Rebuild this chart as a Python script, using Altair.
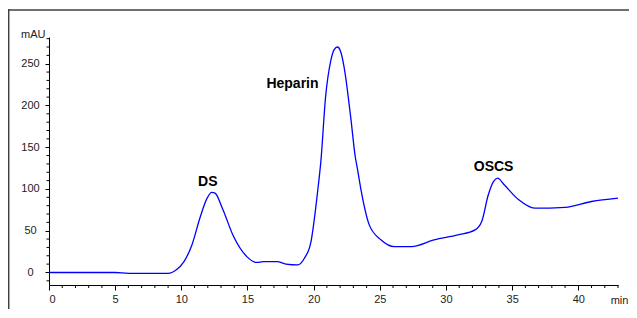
import altair as alt
import pandas as pd

# chromatogram trace (time in min, absorbance in mAU)
time_min = [0, 5, 6, 9.0, 9.6, 10.2, 10.8, 11.4, 11.95, 12.3, 12.55, 13.1, 13.95, 14.95,
            15.7, 16.2, 17.25, 17.9, 18.8, 19.3, 19.8, 20.3, 20.55, 20.9, 21.3, 21.55,
            21.8, 22.05, 22.3, 22.8, 23.15, 23.3, 23.6, 24.2, 25.1, 26.1, 27.4, 29.1,
            30.9, 32.2, 32.7, 33.2, 33.6, 33.9, 34.4, 35.5, 36.7, 39.0, 41.0, 43.0]
mau = [0, 0, -1, -1, 3, 13, 33, 65, 89, 96, 95, 77, 43, 19,
       12, 13, 13, 10, 9, 17, 37, 97, 134, 210, 254, 267,
       270, 264, 246, 186, 138, 125, 97, 57, 39, 31, 31, 39,
       45, 51, 61, 93, 109, 113, 105, 87, 77, 78, 85, 89]

peak_labels = ["DS", "Heparin", "OSCS"]
label_time = [12.0, 18.4, 33.6]
label_mau = [108, 226, 126]

x_major = [0, 5, 10, 15, 20, 25, 30, 35, 40]
x_minor = [i for i in range(0, 44) if i % 5 != 0]
y_major = [0, 50, 100, 150, 200, 250]
y_minor = [v for v in range(-10, 290, 10) if v % 50 != 0]

df = pd.DataFrame({"t": time_min, "v": mau})
lab = pd.DataFrame({"label": peak_labels, "t": label_time, "v": label_mau})
xm = pd.DataFrame({"t": x_minor})
ym = pd.DataFrame({"v": y_minor})

W, H = 569, 248
xs = alt.Scale(domain=[0, 43], nice=False, zero=False)
ys = alt.Scale(domain=[-15, 282], nice=False, zero=False)
font = "Liberation Sans"

line = alt.Chart(df).mark_line(color="#0000ff", strokeWidth=1.3, interpolate="monotone").encode(
    x=alt.X("t:Q", scale=xs, axis=alt.Axis(
        values=x_major, orient="bottom", tickSize=5, labelPadding=3, grid=False,
        domainColor="#000000", tickColor="#000000", labelColor="#222222",
        labelFont=font, labelFontSize=11, title="min", titleFont=font,
        titleFontSize=11, titleFontWeight="normal", titleColor="#222222",
        titleX=570, titleY=18, titleAlign="center", titleBaseline="alphabetic")),
    y=alt.Y("v:Q", scale=ys, axis=alt.Axis(
        values=y_major, orient="left", tickSize=4, labelPadding=15, labelAlign="center",
        grid=False, domainColor="#000000", tickColor="#000000", labelColor="#222222",
        labelFont=font, labelFontSize=11, title="mAU", titleFont=font,
        titleFontSize=11, titleFontWeight="normal", titleColor="#222222", titleAngle=0,
        titleX=-4, titleY=2, titleAlign="right", titleBaseline="bottom")),
)

x_minor_ticks = alt.Chart(xm).mark_rule(color="#000000", strokeWidth=1).encode(
    x=alt.X("t:Q", scale=xs), y=alt.value(H), y2=alt.value(H + 3))
y_minor_ticks = alt.Chart(ym).mark_rule(color="#000000", strokeWidth=1).encode(
    y=alt.Y("v:Q", scale=ys), x=alt.value(0), x2=alt.value(-2.5))

texts = alt.Chart(lab).mark_text(font=font, fontSize=14, fontWeight="bold", color="#000000").encode(
    x=alt.X("t:Q", scale=xs), y=alt.Y("v:Q", scale=ys), text="label:N")

frame_top = alt.Chart(df.head(1)).mark_rule(color="#404040", strokeWidth=1.5).encode(
    x=alt.value(-41), x2=alt.value(600), y=alt.value(-27))
frame_left = alt.Chart(df.head(1)).mark_rule(color="#404040", strokeWidth=1.5).encode(
    x=alt.value(-40.3), y=alt.value(-27.7), y2=alt.value(290))

chart = alt.layer(line, x_minor_ticks, y_minor_ticks, texts, frame_top, frame_left).properties(
    width=W, height=H,
    autosize=alt.AutoSizeParams(type="none"),
    padding={"left": 41, "top": 29, "right": 11, "bottom": 24},
).configure_view(stroke=None)

chart.save("out.html", embed_options={"renderer": "svg", "actions": False})
